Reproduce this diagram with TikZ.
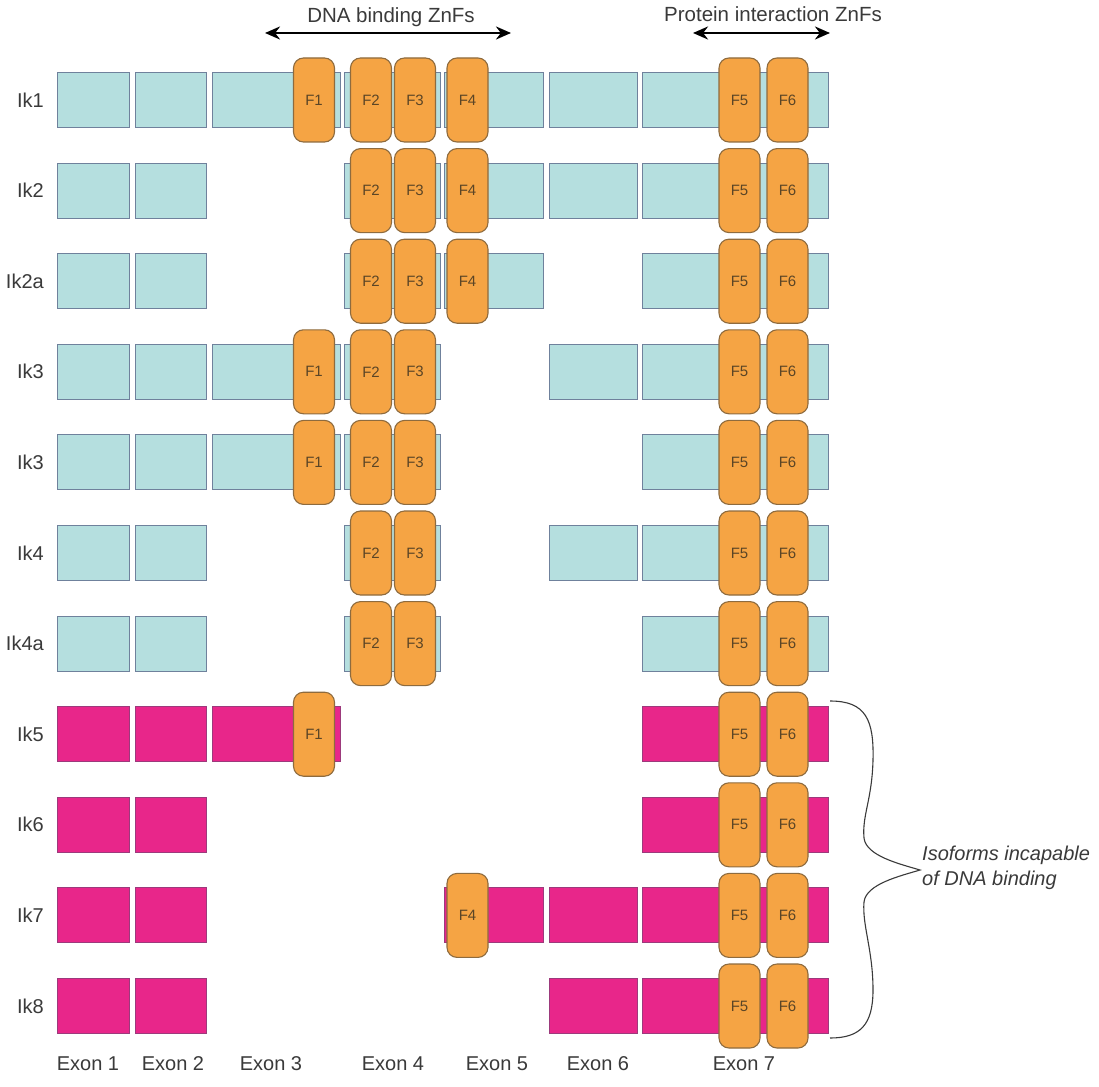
\documentclass[tikz,border=0pt]{standalone}
\usepackage{fontspec}
\setmainfont{Liberation Sans}
\usetikzlibrary{arrows.meta}
\definecolor{teal1}{HTML}{B5DFDF}
\definecolor{tealb}{HTML}{6F819C}
\definecolor{mag}{HTML}{E8268A}
\definecolor{magb}{HTML}{9C3A7C}
\definecolor{orng}{HTML}{F5A444}
\definecolor{orngb}{HTML}{8E6B3E}
\definecolor{ftext}{HTML}{5B4526}
\definecolor{txt}{HTML}{3A3A3A}
\newcommand\exx[1]{\ifcase#1\or57\or135\or212\or344\or444\or549\or642\fi}
\newcommand\exw[1]{\ifcase#1\or72\or71\or128\or96\or99\or88\or186\fi}
\newcommand\fxx[1]{\ifcase#1\or314\or371\or415\or467.5\or739.5\or787.5\fi}
\newcommand\isorow[6]{%
  \node[rowlabel] (lab#1) at (44,#2) {#3};
  \foreach \e in {#5} {\edef\xa{\exx{\e}}\edef\wa{\exw{\e}}%
    \node[#4, minimum width=\wa pt] (r#1e\e) at (\xa,#2) {};}
  \foreach \f in {#6} {\edef\xb{\fxx{\f}}%
    \node[fbox] (r#1f\f) at (\xb,#2) {F\f};}
}
\tikzset{
  exT/.style={draw=tealb, fill=teal1, line width=1.1pt, anchor=west, minimum height=55pt, inner sep=0pt},
  exM/.style={draw=magb, fill=mag, line width=1.1pt, anchor=west, minimum height=55pt, inner sep=0pt},
  fbox/.style={draw=orngb, fill=orng, rounded corners=10pt, minimum width=41pt, minimum height=84pt, line width=1.1pt, text=ftext, font=\fontsize{15}{15}\selectfont, inner sep=0pt},
  rowlabel/.style={anchor=east, font=\fontsize{20}{20}\selectfont, text=txt, inner sep=0pt},
  exlabel/.style={anchor=base, font=\fontsize{20}{20}\selectfont, text=txt, inner sep=0pt},
  toplabel/.style={anchor=base, font=\fontsize{20.5}{20.5}\selectfont, text=txt, inner sep=0pt},
  dblarrow/.style={line width=2.5pt, {Stealth[length=15pt,width=13pt]}-{Stealth[length=15pt,width=13pt]}},
}
\begin{document}
\begin{tikzpicture}[x=1pt,y=-1pt]
\useasboundingbox (0,0) rectangle (1099,1086);
\fill[white] (0,0) rectangle (1099,1086);
% top annotations
\node[toplabel] (dnatxt) at (391,23) {DNA binding ZnFs};
\coordinate (dnaL) at (265,33);
\coordinate (dnaR) at (511,33);
\draw[dblarrow] (dnaL) -- (dnaR);
\node[toplabel] (prottxt) at (773,22) {Protein interaction ZnFs};
\coordinate (protL) at (693,33);
\coordinate (protR) at (830,33);
\draw[dblarrow] (protL) -- (protR);
% rows
\isorow{1}{100}{Ik1}{exT}{1,2,3,4,5,6,7}{1,2,3,4,5,6}
\isorow{2}{190.6}{Ik2}{exT}{1,2,4,5,6,7}{2,3,4,5,6}
\isorow{3}{281.2}{Ik2a}{exT}{1,2,4,5,7}{2,3,4,5,6}
\isorow{4}{371.8}{Ik3}{exT}{1,2,3,4,6,7}{1,2,3,5,6}
\isorow{5}{462.4}{Ik3}{exT}{1,2,3,4,7}{1,2,3,5,6}
\isorow{6}{553}{Ik4}{exT}{1,2,4,6,7}{2,3,5,6}
\isorow{7}{643.6}{Ik4a}{exT}{1,2,4,7}{2,3,5,6}
\isorow{8}{734.2}{Ik5}{exM}{1,2,3,7}{1,5,6}
\isorow{9}{824.8}{Ik6}{exM}{1,2,7}{5,6}
\isorow{10}{915.4}{Ik7}{exM}{1,2,5,6,7}{4,5,6}
\isorow{11}{1006}{Ik8}{exM}{1,2,6,7}{5,6}
% exon labels
\node[exlabel] (x1) at (88,1070) {Exon 1};
\node[exlabel] (x2) at (173,1070) {Exon 2};
\node[exlabel] (x3) at (271,1070) {Exon 3};
\node[exlabel] (x4) at (393,1070) {Exon 4};
\node[exlabel] (x5) at (497,1070) {Exon 5};
\node[exlabel] (x6) at (598,1070) {Exon 6};
\node[exlabel] (x7) at (744,1070) {Exon 7};
% brace
\coordinate (brT) at (830,701);
\coordinate (brB) at (830,1038);
\coordinate (brTip) at (920,870);
\draw[line width=1.1pt, txt] (brT) .. controls (866,701) and (874,720) .. (873,760)
  .. controls (872,800) and (862,815) .. (864,838)
  .. controls (866,856) and (900,864) .. (brTip)
  .. controls (900,876) and (866,884) .. (864,902)
  .. controls (862,925) and (873,950) .. (873,990)
  .. controls (873,1025) and (860,1038) .. (brB);
\node[anchor=west, align=left, font=\fontsize{20}{25}\selectfont\itshape, text=txt, inner sep=0pt] (iso) at (922,868) {Isoforms incapable\\of DNA binding};
\end{tikzpicture}
\end{document}
